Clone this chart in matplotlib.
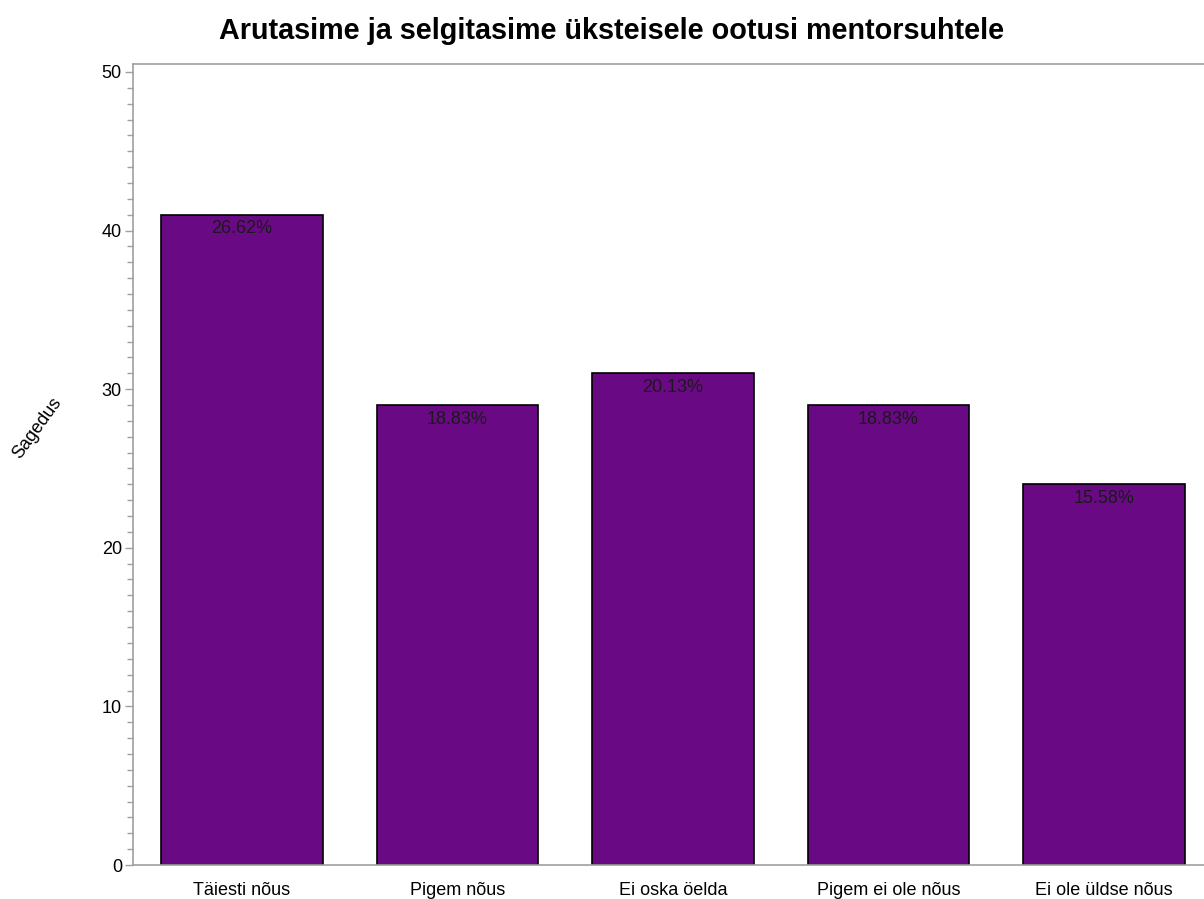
import numpy as np
import matplotlib
matplotlib.use('Agg')
import matplotlib.pyplot as plt
from matplotlib.ticker import MultipleLocator

categories = ['Täiesti nõus', 'Pigem nõus', 'Ei oska öelda', 'Pigem ei ole nõus', 'Ei ole üldse nõus']
counts = [41, 29, 31, 29, 24]
pct_labels = ['26.62%', '18.83%', '20.13%', '18.83%', '15.58%']

plt.rcParams['font.family'] = ['Liberation Sans', 'DejaVu Sans']

fig = plt.figure(figsize=(12.04, 8.99), dpi=100)
ax = fig.add_axes([133/1204, 34/899, 1080/1204, 801/899])

x = np.arange(len(categories))
bars = ax.bar(x, counts, width=0.75, color='#690A84', edgecolor='black', linewidth=1.2)

for b, lab in zip(bars, pct_labels):
	ax.annotate(lab, (b.get_x() + b.get_width()/2, b.get_height()), xytext=(0, -4),
		textcoords='offset points', ha='center', va='top', fontsize=13, color='#1a1a1a')

ax.set_xlim(-0.506, 4.506)
ax.set_ylim(0, 50.5)
ax.set_xticks(x)
ax.set_xticklabels(categories, fontsize=13)
ax.set_yticks([0, 10, 20, 30, 40, 50])
ax.yaxis.set_minor_locator(MultipleLocator(1))
ax.tick_params(axis='y', which='major', labelsize=13, length=6, color='#a0a0a0', width=1, pad=2)
ax.tick_params(axis='y', which='minor', length=4, color='#a0a0a0', width=1)
ax.tick_params(axis='x', length=0, pad=12)

for s in ['left', 'bottom', 'top']:
	ax.spines[s].set_color('#a0a0a0')
	ax.spines[s].set_linewidth(1.2)
ax.spines['right'].set_visible(False)

fig.text(37/1204, 1 - 428/899, 'Sagedus', rotation=54, ha='center', va='center', fontsize=13)
fig.text(612/1204, 1 - 31/899, 'Arutasime ja selgitasime üksteisele ootusi mentorsuhtele',
	ha='center', va='center', fontsize=20.7, fontweight='bold')

fig.savefig('out.png', dpi=100)
